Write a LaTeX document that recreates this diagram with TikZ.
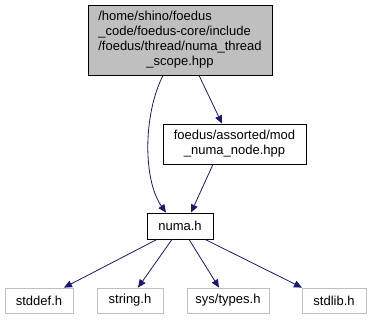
\documentclass[tikz,border=0pt]{standalone}
\usepackage{fontspec}
\setmainfont{Liberation Sans}
\usetikzlibrary{arrows.meta}
\definecolor{edgeblue}{HTML}{191970}
\definecolor{nodegray}{HTML}{BFBFBF}
\definecolor{extgray}{HTML}{BFBFBF}
\tikzset{
  file/.style={draw=black, line width=0.8pt, fill=white, inner sep=0pt, align=center,
    font=\fontsize{13}{15}\selectfont},
  mainfile/.style={file, fill=nodegray},
  extfile/.style={file, draw=extgray},
  dep/.style={draw=edgeblue, line width=0.8pt, -{Triangle[length=8pt,width=7pt]}}
}
\begin{document}
\begin{tikzpicture}[x=1pt,y=-1pt]
\useasboundingbox (0,0) rectangle (371,320);
\node[mainfile, minimum width=184pt, minimum height=70pt] (top) at (180,40)
  {\begin{tabular}{@{}l@{}}/home/shino/foedus\\\_code/foedus-core/include\\/foedus/thread/numa\_thread\\\multicolumn{1}{@{}c@{}}{\_scope.hpp}\end{tabular}};
\node[file, minimum width=143pt, minimum height=40pt] (mod) at (234.5,144)
  {foedus/assorted/mod\\\_numa\_node.hpp};
\node[file, minimum width=66pt, minimum height=26pt] (numa) at (180,226) {numa.h};
\node[extfile, minimum width=68pt, minimum height=25pt] (stddef) at (39,300.5) {stddef.h};
\node[extfile, minimum width=66pt, minimum height=25pt] (string) at (130,300.5) {string.h};
\node[extfile, minimum width=82pt, minimum height=25pt] (types) at (228,300.5) {sys/types.h};
\node[extfile, minimum width=64pt, minimum height=25pt] (stdlib) at (334,300.5) {stdlib.h};

\draw[dep] (top.south -| 163,0) .. controls (143,115) and (143,180) .. (numa.north -| 166,0);
\draw[dep] (top.south -| 199,0) -- (mod.north -| 222,0);
\draw[dep] (mod.south -| 213,0) -- (numa.north -| 191,0);
\draw[dep] (numa.south -| 157,0) -- (stddef.north -| 64,0);
\draw[dep] (numa.south -| 172,0) -- (string.north -| 138,0);
\draw[dep] (numa.south -| 189,0) -- (types.north -| 219,0);
\draw[dep] (numa.south -| 205,0) -- (stdlib.north -| 302,0);
\end{tikzpicture}
\end{document}
